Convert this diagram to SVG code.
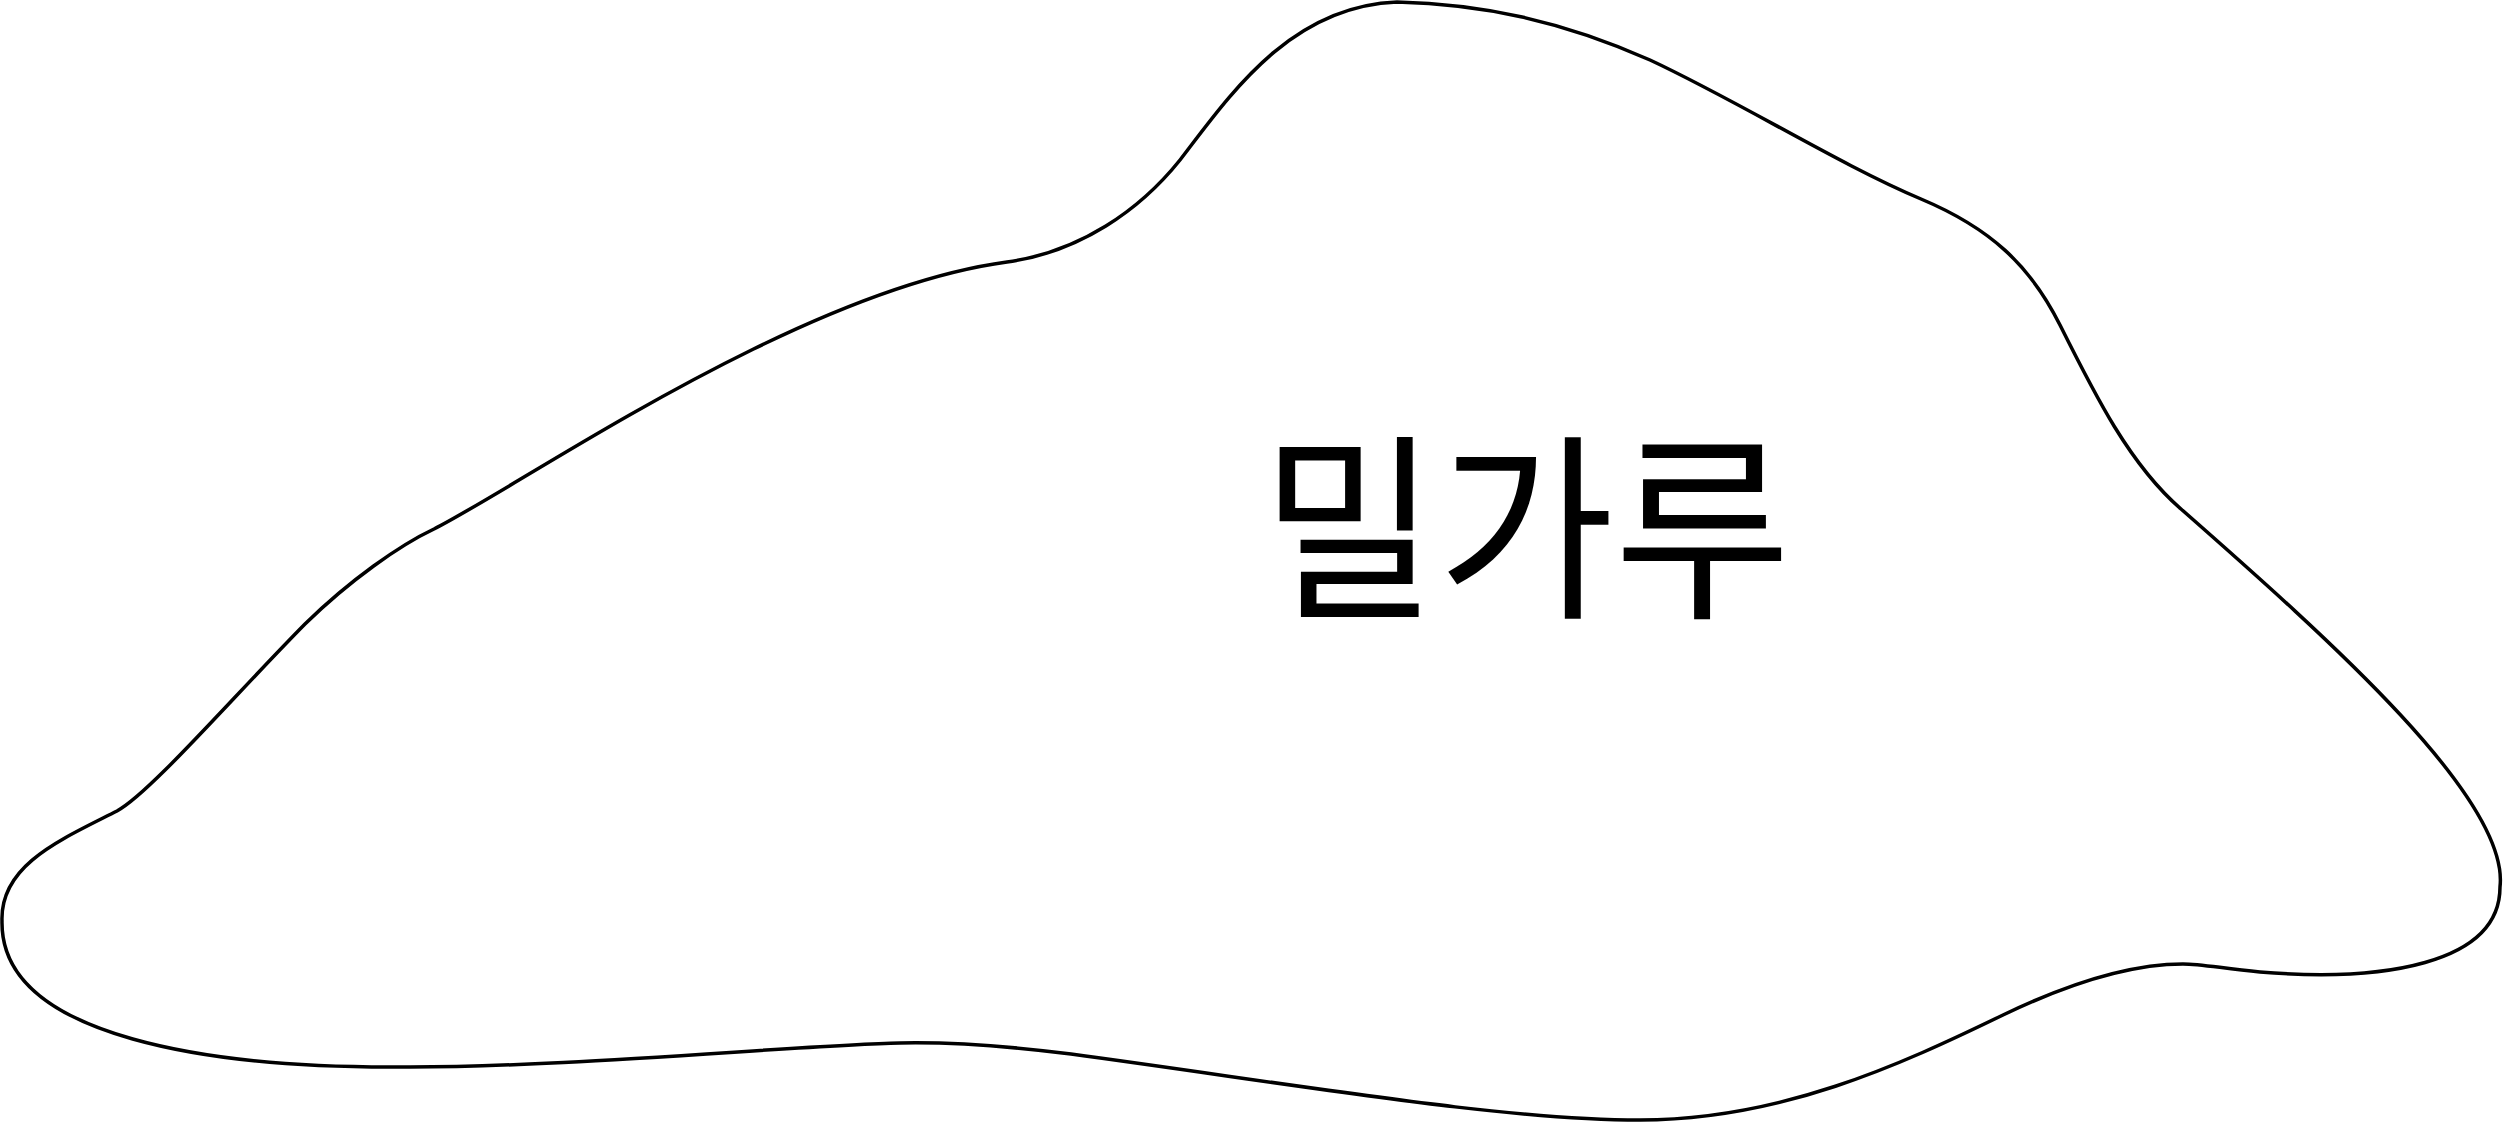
<svg xmlns="http://www.w3.org/2000/svg" width="2503" height="1124" viewBox="0 0 2503 1124">
<style>
.blob{fill:#fff;stroke:#000;stroke-width:3.5;stroke-linejoin:round}
.lbl{font-family:"Noto Sans CJK KR","Noto Sans CJK SC",sans-serif;font-size:200px;fill:#000}
</style>
<rect width="2503" height="1124" fill="#fff"/>
<g id="node-wheat-flour">
<path class="blob" d="M 1397 2 C 1480 4, 1560 20, 1650 60 C 1740 102, 1840 165, 1921 199 C 1990 228, 2030 265, 2060 325 C 2095 395, 2130 465, 2181 509 C 2330 640, 2510 800, 2500 887 C 2500 965, 2380 982, 2260 972 C 2220 968, 2200 964, 2183 964 C 2140 964, 2080 978, 2003 1015 C 1900 1065, 1780 1120, 1640 1120 C 1500 1120, 1300 1085, 1071 1054 C 1000 1045, 950 1042, 900 1043 C 800 1045, 560 1068, 400 1067 C 220 1068, 0 1040, 2 921 C 0 865, 60 840, 117 811 C 150 793, 230 700, 305 624 C 350 580, 400 545, 434 529 C 530 480, 800 290, 1007 262 C 1080 252, 1140 210, 1180 160 C 1230 95, 1290 6, 1397 2 Z"/>
<text class="lbl" x="1526" y="603" text-anchor="middle" textLength="530" lengthAdjust="spacingAndGlyphs">밀가루</text>
</g>
<g id="connectors"/>
</svg>
